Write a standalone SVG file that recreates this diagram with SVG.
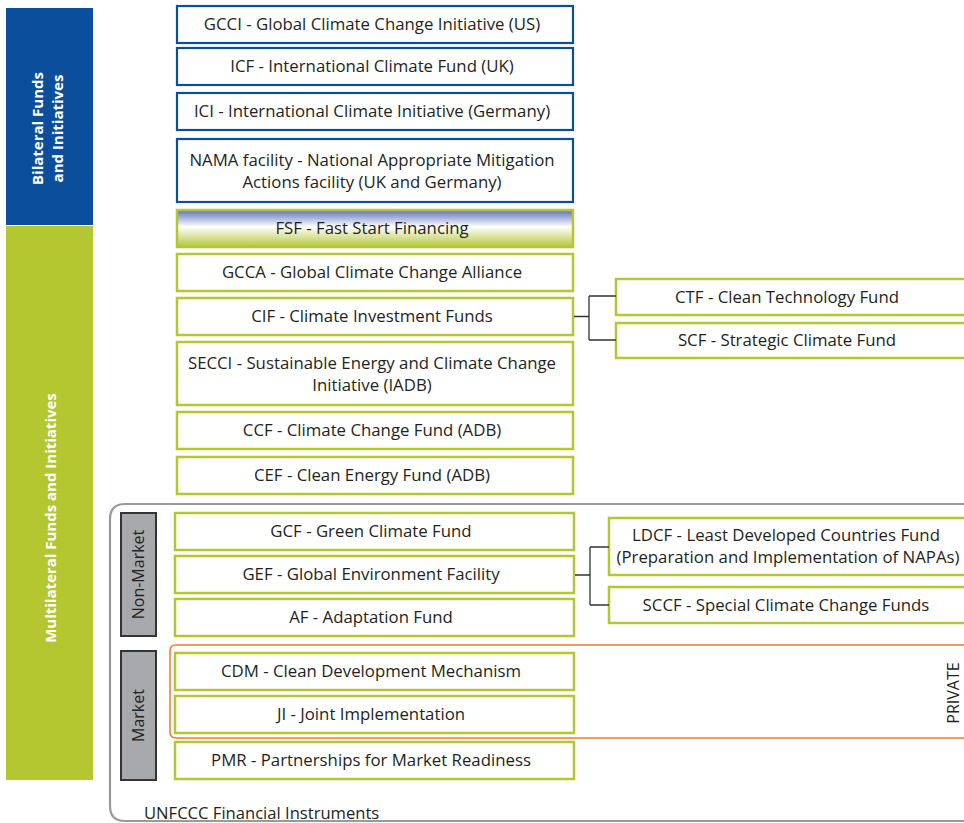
<svg xmlns="http://www.w3.org/2000/svg" width="964" height="823" viewBox="0 0 964 823">
<defs>
<linearGradient id="fsf" x1="0" y1="0" x2="0" y2="1">
<stop offset="0" stop-color="#5b6fb8"/>
<stop offset="0.45" stop-color="#ffffff"/>
<stop offset="1" stop-color="#b2c737"/>
</linearGradient>
<style>
.bl{fill:#fff;stroke:#0b4f9c;stroke-width:2.2}
.gr{fill:#fff;stroke:#b4c630;stroke-width:2.5}
.t{font-family:"Open Sans","Liberation Sans",sans-serif;font-size:16.8px;fill:#231f20;text-anchor:middle}
.side{font-family:"Open Sans","Liberation Sans",sans-serif;font-size:15px;font-weight:bold;fill:#fff;text-anchor:middle}
.gbox{fill:#a7a9ac;stroke:#333;stroke-width:2}
.lbl{font-family:"Open Sans","Liberation Sans",sans-serif;font-size:16px;fill:#231f20;text-anchor:middle}
.conn{fill:none;stroke:#333;stroke-width:1.3}
</style>
</defs>
<rect width="964" height="823" fill="#fff"/>
<g id="bilateral-bar">
<rect x="6" y="8" width="87" height="217" fill="#0b4f9c"/>
<text class="side" transform="translate(43,128.5) rotate(-90)">Bilateral Funds</text>
<text class="side" transform="translate(63,128.5) rotate(-90)">and Initiatives</text>
</g>
<g id="multilateral-bar">
<rect x="6" y="226" width="87" height="554" fill="#b4c630"/>
<text class="side" transform="translate(56,518) rotate(-90)">Multilateral Funds and Initiatives</text>
</g>
<g id="unfccc">
<path d="M964,504 H125 Q110,504 110,519 V806 Q110,821 125,821 H964" fill="none" stroke="#999" stroke-width="2.2"/>
<text x="144" y="819" font-family="'Open Sans','Liberation Sans',sans-serif" font-size="16.6" fill="#231f20">UNFCCC Financial Instruments</text>
</g>
<g id="private">
<path d="M964,645 H176 Q170,645 170,651 V732 Q170,738 176,738 H964" fill="none" stroke="#f07a2a" stroke-width="1.5"/>
<text class="lbl" transform="translate(959,693) rotate(-90)">PRIVATE</text>
</g>
<g id="non-market">
<rect class="gbox" x="121" y="513" width="35" height="123"/>
<text class="lbl" transform="translate(144,574.5) rotate(-90)">Non-Market</text>
</g>
<g id="market">
<rect class="gbox" x="121" y="651" width="35" height="129"/>
<text class="lbl" transform="translate(144,715.5) rotate(-90)">Market</text>
</g>
<g id="gcci"><rect class="bl" x="177" y="6" width="396" height="37"/><text class="t" x="372" y="30">GCCI - Global Climate Change Initiative (US)</text></g>
<g id="icf"><rect class="bl" x="177" y="48" width="396" height="37"/><text class="t" x="372" y="72">ICF - International Climate Fund (UK)</text></g>
<g id="ici"><rect class="bl" x="177" y="93" width="396" height="37"/><text class="t" x="372" y="117">ICI - International Climate Initiative (Germany)</text></g>
<g id="nama"><rect class="bl" x="177" y="139" width="396" height="63"/><text class="t" x="372" y="166">NAMA facility - National Appropriate Mitigation</text><text class="t" x="372" y="188">Actions facility (UK and Germany)</text></g>
<g id="fsf"><rect x="177" y="210" width="396" height="37" fill="url(#fsf)" stroke="#b4c630" stroke-width="2.5"/><text class="t" x="372" y="234">FSF - Fast Start Financing</text></g>
<g id="gcca"><rect class="gr" x="177" y="254" width="396" height="37"/><text class="t" x="372" y="278">GCCA - Global Climate Change Alliance</text></g>
<g id="cif"><rect class="gr" x="177" y="298" width="396" height="37"/><text class="t" x="372" y="322">CIF - Climate Investment Funds</text></g>
<g id="secci"><rect class="gr" x="177" y="342" width="396" height="63"/><text class="t" x="372" y="369">SECCI  - Sustainable Energy and Climate Change</text><text class="t" x="372" y="391">Initiative (IADB)</text></g>
<g id="ccf"><rect class="gr" x="177" y="412" width="396" height="37"/><text class="t" x="372" y="436">CCF - Climate Change Fund (ADB)</text></g>
<g id="cef"><rect class="gr" x="177" y="457" width="396" height="37"/><text class="t" x="372" y="481">CEF - Clean Energy Fund (ADB)</text></g>
<g id="ctf"><rect class="gr" x="616" y="279" width="360" height="36"/><text class="t" x="787" y="303">CTF - Clean Technology Fund</text></g>
<g id="scf"><rect class="gr" x="616" y="323" width="360" height="35"/><text class="t" x="787" y="346">SCF - Strategic Climate Fund</text></g>
<g id="gcf"><rect class="gr" x="175" y="513" width="399" height="37"/><text class="t" x="371" y="537">GCF - Green Climate Fund</text></g>
<g id="gef"><rect class="gr" x="175" y="556" width="399" height="37"/><text class="t" x="371" y="580">GEF - Global Environment Facility</text></g>
<g id="af"><rect class="gr" x="175" y="599" width="399" height="37"/><text class="t" x="371" y="623">AF - Adaptation Fund</text></g>
<g id="ldcf"><rect class="gr" x="609" y="518" width="370" height="57"/><text class="t" x="786" y="541">LDCF - Least Developed Countries Fund</text><text class="t" x="788" y="563" font-size="16.4">(Preparation and Implementation of NAPAs)</text></g>
<g id="sccf"><rect class="gr" x="609" y="587" width="370" height="36"/><text class="t" x="786" y="611">SCCF - Special Climate Change Funds</text></g>
<g id="cdm"><rect class="gr" x="175" y="653" width="399" height="37"/><text class="t" x="371" y="677">CDM - Clean Development Mechanism</text></g>
<g id="ji"><rect class="gr" x="175" y="696" width="399" height="37"/><text class="t" x="371" y="720">JI - Joint Implementation</text></g>
<g id="pmr"><rect class="gr" x="175" y="742" width="399" height="37"/><text class="t" x="371" y="766">PMR - Partnerships for Market Readiness</text></g>
<g id="connectors">
<path class="conn" d="M574,316.5 H589 M589,296 V340 M589,296 H616 M589,340 H616"/>
<path class="conn" d="M575,575 H590 M590,547 V605 M590,547 H609 M590,605 H609"/>
</g>
</svg>
